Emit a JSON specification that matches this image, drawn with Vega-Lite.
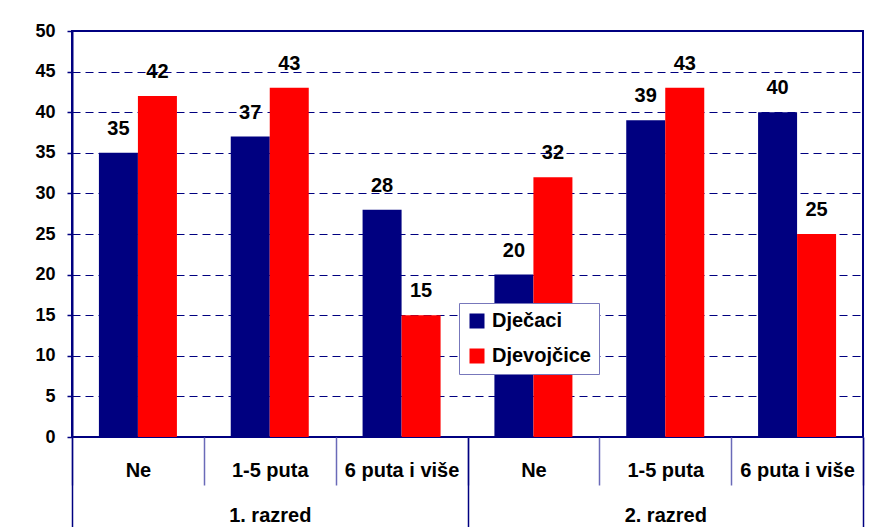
{
  "$schema": "https://vega.github.io/schema/vega-lite/v6.json",
  "width": 791,
  "height": 406,
  "autosize": {"type": "none"},
  "padding": {"left": 72, "top": 31, "right": 24, "bottom": 90},
  "background": "white",
  "config": {
    "font": "Liberation Sans",
    "view": {"stroke": "#000080", "strokeWidth": 2}
  },
  "data": {
    "values": [
      {"razred": "1. razred", "kat": "1. razred|Ne", "spol": "Dječaci", "v": 35},
      {"razred": "1. razred", "kat": "1. razred|Ne", "spol": "Djevojčice", "v": 42},
      {"razred": "1. razred", "kat": "1. razred|1-5 puta", "spol": "Dječaci", "v": 37},
      {"razred": "1. razred", "kat": "1. razred|1-5 puta", "spol": "Djevojčice", "v": 43},
      {"razred": "1. razred", "kat": "1. razred|6 puta i više", "spol": "Dječaci", "v": 28},
      {"razred": "1. razred", "kat": "1. razred|6 puta i više", "spol": "Djevojčice", "v": 15},
      {"razred": "2. razred", "kat": "2. razred|Ne", "spol": "Dječaci", "v": 20},
      {"razred": "2. razred", "kat": "2. razred|Ne", "spol": "Djevojčice", "v": 32},
      {"razred": "2. razred", "kat": "2. razred|1-5 puta", "spol": "Dječaci", "v": 39},
      {"razred": "2. razred", "kat": "2. razred|1-5 puta", "spol": "Djevojčice", "v": 43},
      {"razred": "2. razred", "kat": "2. razred|6 puta i više", "spol": "Dječaci", "v": 40},
      {"razred": "2. razred", "kat": "2. razred|6 puta i više", "spol": "Djevojčice", "v": 25}
    ]
  },
  "layer": [
    {
      "encoding": {
        "x": {
          "field": "kat",
          "type": "nominal",
          "sort": ["1. razred|Ne", "1. razred|1-5 puta", "1. razred|6 puta i više", "2. razred|Ne", "2. razred|1-5 puta", "2. razred|6 puta i više"],
          "scale": {"paddingInner": 0, "paddingOuter": 0},
          "axis": {
            "orient": "bottom",
            "title": null,
            "domain": false,
            "grid": false,
            "ticks": true,
            "tickBand": "extent",
            "tickSize": 48,
            "tickColor": "#6a6ab8",
            "tickWidth": 1.5,
            "labelExpr": "split(datum.label, '|')[1]",
            "labelAngle": 0,
            "labelFontSize": 20,
            "labelFontWeight": "bold",
            "labelColor": "black",
            "labelBaseline": "middle",
            "labelPadding": -15
          }
        },
        "xOffset": {
          "field": "spol",
          "type": "nominal",
          "sort": ["Dječaci", "Djevojčice"],
          "scale": {"paddingInner": 0, "paddingOuter": 0.69}
        },
        "y": {
          "field": "v",
          "type": "quantitative",
          "scale": {"domain": [0, 50], "nice": false},
          "axis": {
            "title": null,
            "values": [0, 5, 10, 15, 20, 25, 30, 35, 40, 45, 50],
            "domainColor": "#000080",
            "domainWidth": 2,
            "tickColor": "#000080",
            "tickSize": 5,
            "tickWidth": 1.5,
            "labelPadding": 12,
            "labelFontSize": 18,
            "labelFontWeight": "bold",
            "labelColor": "black",
            "grid": true,
            "gridColor": "#000080",
            "gridDash": [8, 5],
            "gridWidth": 1
          }
        }
      },
      "layer": [
        {
          "mark": {"type": "bar"},
          "encoding": {
            "color": {
              "field": "spol",
              "type": "nominal",
              "sort": ["Dječaci", "Djevojčice"],
              "scale": {"domain": ["Dječaci", "Djevojčice"], "range": ["#000080", "#FF0000"]},
              "legend": {
                "title": null,
                "orient": "none",
                "legendX": 387,
                "legendY": 272,
                "symbolType": "square",
                "symbolSize": 225,
                "symbolStrokeWidth": 0,
                "labelFontSize": 20,
                "labelFontWeight": "bold",
                "labelColor": "black",
                "labelOffset": 5,
                "rowPadding": 15,
                "padding": 8,
                "fillColor": "white",
                "strokeColor": "#7777bb"
              }
            }
          }
        },
        {
          "mark": {"type": "text", "baseline": "alphabetic", "dy": -18, "fontSize": 20, "fontWeight": "bold", "color": "black"},
          "encoding": {
            "text": {"field": "v", "type": "quantitative"}
          }
        }
      ]
    },
    {
      "mark": {"type": "bar", "opacity": 0},
      "encoding": {
        "x": {
          "field": "razred",
          "type": "nominal",
          "scale": {"paddingInner": 0, "paddingOuter": 0},
          "axis": {
            "orient": "bottom",
            "title": null,
            "domain": false,
            "grid": false,
            "tickBand": "extent",
            "tickSize": 90,
            "tickColor": "#000080",
            "tickWidth": 1.5,
            "labelAngle": 0,
            "labelFontSize": 20,
            "labelFontWeight": "bold",
            "labelColor": "black",
            "labelBaseline": "middle",
            "labelPadding": -12
          }
        }
      }
    }
  ],
  "resolve": {"scale": {"x": "independent"}}
}
